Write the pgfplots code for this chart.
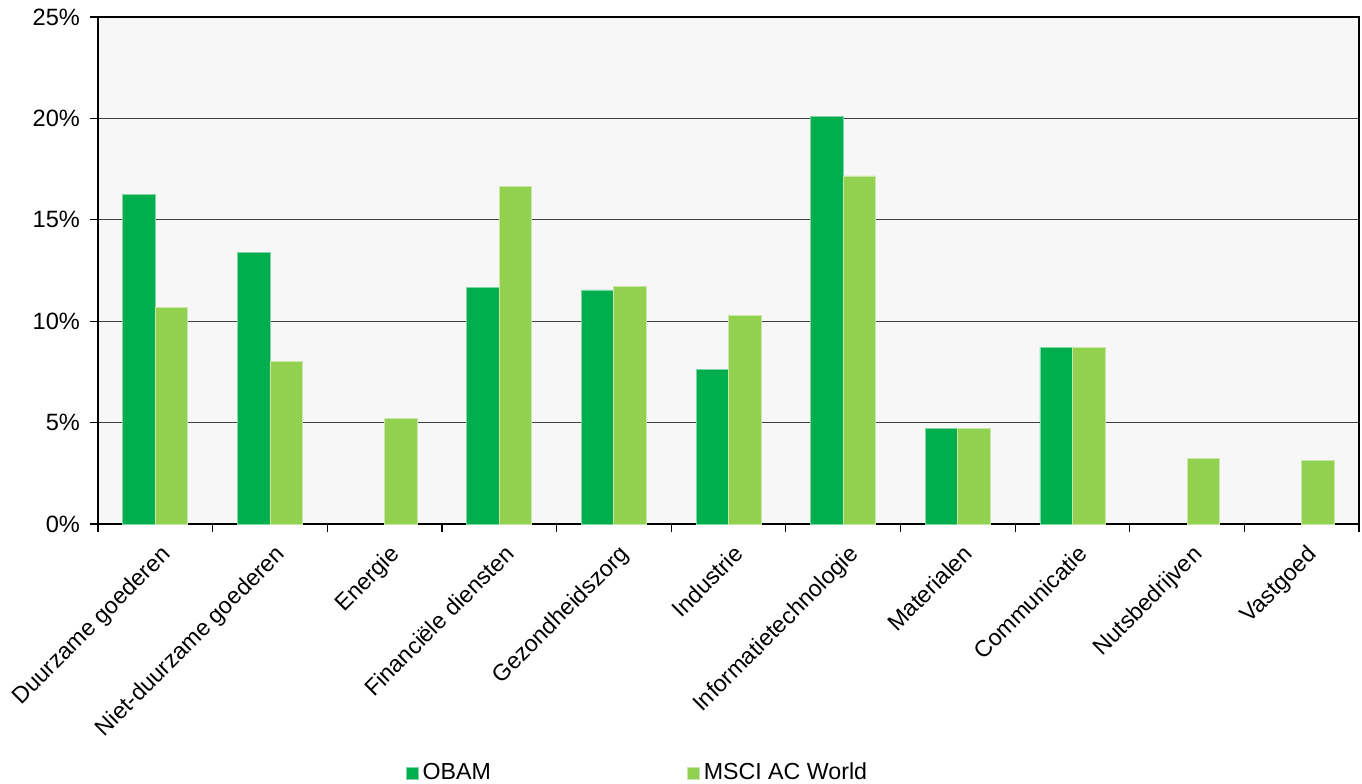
\documentclass[border=0pt]{standalone}
\usepackage{fontspec}
\setmainfont{Liberation Sans}
\usepackage{pgfplots}
\pgfplotsset{compat=1.18}
\definecolor{obam}{RGB}{0,174,77}
\definecolor{msci}{RGB}{146,208,80}
\definecolor{bg}{RGB}{247,247,247}
\newcommand{\lf}{\fontsize{11.6bp}{14bp}\selectfont}
\newcommand{\tf}{\fontsize{11.8bp}{14bp}\selectfont}
\begin{document}
\begin{tikzpicture}
\useasboundingbox (-49bp,-130bp) rectangle (632bp,262bp);
\begin{axis}[
  at={(0,0)}, anchor=south west,
  scale only axis,
  width=630.5bp, height=253.5bp,
  xmin=-0.5, xmax=10.5,
  ymin=0, ymax=25,
  ybar=0pt, bar width=16.25bp,
  axis background/.style={fill=bg},
  axis line style={black, line width=1bp},
  xtick={0,...,10},
  xticklabels={Duurzame goederen,Niet-duurzame goederen,Energie,Financiële diensten,Gezondheidszorg,Industrie,Informatietechnologie,Materialen,Communicatie,Nutsbedrijven,Vastgoed},
  major x tick style={draw=none},
  minor xtick={-0.5,0.5,...,10.5},
  minor x tick style={black, line width=0.6bp},
  minor tick length=4bp,
  ytick={0,5,10,15,20,25},
  yticklabels={0\%,5\%,10\%,15\%,20\%,25\%},
  major tick length=4bp,
  y tick style={black, line width=0.6bp},
  tick align=outside,
  xtick pos=bottom, ytick pos=left,
  ymajorgrids,
  major grid style={black!75, line width=0.6bp},
  xticklabel style={font=\lf, rotate=45, anchor=north east, inner sep=1bp, xshift=-1.5bp, yshift=-4.5bp},
  yticklabel style={font=\tf, xshift=-1.5bp},
  /pgf/number format/assume math mode=true,
  legend columns=2,
  legend style={at={(0.4286,-0.491)}, anchor=center, draw=none, fill=none, font=\lf,
    /tikz/every even column/.append style={column sep=96bp}},
  legend image code/.code={\fill[#1] (0bp,-3bp) rectangle (6bp,3bp);},
]
\addplot[fill=obam, draw=white!50!obam, line width=0.4bp] coordinates {
 (0,16.27) (1,13.4) (3,11.65) (4,11.54) (5,7.63) (6,20.09) (7,4.72) (8,8.7)};
\addplot[fill=msci, draw=white!50!msci, line width=0.4bp] coordinates {
 (0,10.7) (1,8.0) (2,5.2) (3,16.65) (4,11.72) (5,10.27) (6,17.16) (7,4.72) (8,8.7) (9,3.25) (10,3.14)};
\legend{OBAM,MSCI AC World}
\end{axis}
\end{tikzpicture}
\end{document}
